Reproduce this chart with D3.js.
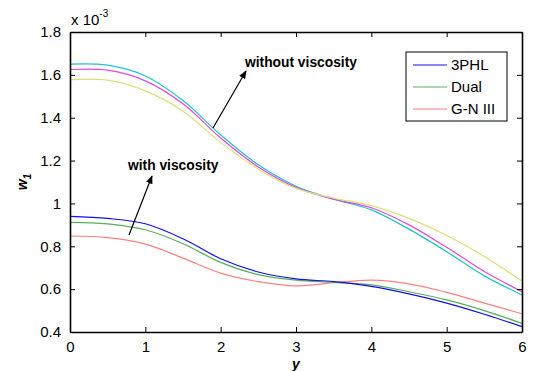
<!DOCTYPE html>
<html>
<head>
<meta charset="utf-8">
<script src="https://cdn.jsdelivr.net/npm/d3@7"></script>
<style>
  body { margin: 0; background: #fff; }
  text { font-family: "Liberation Sans", Arial, sans-serif; }
</style>
</head>
<body>
<svg id="chart"></svg>
<script>
// x positions shared by every curve
var yPos = [0, 0.5, 1, 1.5, 2, 2.5, 3, 3.5, 4, 4.5, 5, 5.5, 6];

// with viscosity (x 10^-3)
var phlWith  = [0.940, 0.930, 0.905, 0.835, 0.742, 0.680, 0.648, 0.635, 0.613, 0.578, 0.535, 0.483, 0.425];
var dualWith = [0.912, 0.905, 0.877, 0.812, 0.725, 0.668, 0.642, 0.632, 0.620, 0.588, 0.550, 0.500, 0.440];
var gnWith   = [0.848, 0.840, 0.810, 0.745, 0.675, 0.635, 0.615, 0.630, 0.642, 0.625, 0.585, 0.535, 0.485];

// without viscosity (x 10^-3)
var phlWithout  = [1.650, 1.645, 1.595, 1.480, 1.320, 1.180, 1.080, 1.020, 0.970, 0.880, 0.775, 0.662, 0.573];
var dualWithout = [1.625, 1.622, 1.572, 1.465, 1.305, 1.170, 1.075, 1.020, 0.980, 0.900, 0.795, 0.682, 0.588];
var gnWithout   = [1.578, 1.575, 1.525, 1.430, 1.285, 1.160, 1.070, 1.025, 0.990, 0.930, 0.850, 0.752, 0.638];

var xTicks = [0, 1, 2, 3, 4, 5, 6];
var yTicks = [0.4, 0.6, 0.8, 1, 1.2, 1.4, 1.6, 1.8];
var legendNames = ["3PHL", "Dual", "G-N III"];

var width = 537, height = 371;
var margin = {left: 70, right: 15, top: 32, bottom: 39};

var svg = d3.select("#chart")
            .attr("width", width)
            .attr("height", height);

var x = d3.scaleLinear().domain([0, 6]).range([margin.left, width - margin.right]);
var y = d3.scaleLinear().domain([0.4, 1.8]).range([height - margin.bottom, margin.top]);

// curves
var series = [
    {v: phlWithout,  color: "#1cc4cc"},
    {v: dualWithout, color: "#e048e0"},
    {v: gnWithout,   color: "#dede7a"},
    {v: gnWith,      color: "#ff8080"},
    {v: dualWith,    color: "#5aae5a"},
    {v: phlWith,     color: "#1010f0"}
];

var line = d3.line()
             .x(function(d) { return x(d[0]); })
             .y(function(d) { return y(d[1]); })
             .curve(d3.curveCatmullRom.alpha(0.5));

svg.selectAll(".curve")
   .data(series)
   .enter()
   .append("path")
     .classed("curve", true)
     .attr("fill", "none")
     .attr("stroke", function(d) { return d.color; })
     .attr("stroke-width", 1.2)
     .attr("d", function(d) { return line(d.v.map(function(v, i) { return [yPos[i], v]; })); });

// axes, ticks pointing inward like matlab
var fmt = function(d) { return d3.format("~g")(d); };
var axBottom = svg.append("g")
    .attr("transform", "translate(0," + y(0.4) + ")")
    .call(d3.axisBottom(x).tickValues(xTicks).tickSizeInner(-5).tickSizeOuter(0).tickPadding(9).tickFormat(fmt));
var axLeft = svg.append("g")
    .attr("transform", "translate(" + x(0) + ",0)")
    .call(d3.axisLeft(y).tickValues(yTicks).tickSizeInner(-5).tickSizeOuter(0).tickPadding(9).tickFormat(fmt));
var axTop = svg.append("g")
    .attr("transform", "translate(0," + y(1.8) + ")")
    .call(d3.axisTop(x).tickValues(xTicks).tickSizeInner(-5).tickSizeOuter(0).tickFormat(""));
var axRight = svg.append("g")
    .attr("transform", "translate(" + x(6) + ",0)")
    .call(d3.axisRight(y).tickValues(yTicks).tickSizeInner(-5).tickSizeOuter(0).tickFormat(""));

[axBottom, axLeft, axTop, axRight].forEach(function(g) {
    g.select(".domain").attr("stroke", "#000").attr("stroke-width", 1.6);
    g.selectAll(".tick line").attr("stroke", "#000");
    g.selectAll(".tick text").attr("font-size", "15px").attr("fill", "#000")
     .style("font-family", "'Liberation Sans', Arial, sans-serif");
});

// exponent label
var expo = svg.append("text")
    .attr("x", x(0) + 1)
    .attr("y", 25)
    .attr("font-size", "15px");
expo.append("tspan").text("x 10");
expo.append("tspan").attr("dy", -8).attr("font-size", "10px").text("-3");

// axis titles
svg.append("text")
    .attr("x", x(3))
    .attr("y", 369)
    .attr("text-anchor", "middle")
    .attr("font-size", "14px")
    .attr("font-weight", "bold")
    .attr("font-style", "italic")
    .text("y");

var wl = svg.append("text")
    .attr("transform", "translate(27," + y(1.1) + ") rotate(-90)")
    .attr("text-anchor", "middle")
    .attr("font-size", "14px")
    .attr("font-weight", "bold")
    .attr("font-style", "italic");
wl.append("tspan").text("w");
wl.append("tspan").attr("dy", 4).attr("font-size", "10px").text("1");

// annotations with arrows
svg.append("defs").append("marker")
    .attr("id", "head")
    .attr("viewBox", "0 0 10 10")
    .attr("refX", 9).attr("refY", 5)
    .attr("markerWidth", 7).attr("markerHeight", 7)
    .attr("orient", "auto")
  .append("path")
    .attr("d", "M0,1 L10,5 L0,9 z")
    .attr("fill", "#000");

var notes = [
    {text: "without viscosity", tx: 245, ty: 67, from: [213, 128], to: [246, 71]},
    {text: "with viscosity", tx: 128, ty: 170, from: [129, 235], to: [152, 176]}
];
notes.forEach(function(n) {
    svg.append("text")
        .attr("x", n.tx).attr("y", n.ty)
        .attr("font-size", "13.8px")
        .attr("font-weight", "bold")
        .text(n.text);
    svg.append("line")
        .attr("x1", n.from[0]).attr("y1", n.from[1])
        .attr("x2", n.to[0]).attr("y2", n.to[1])
        .attr("stroke", "#000")
        .attr("stroke-width", 1.2)
        .attr("marker-end", "url(#head)");
});

// legend
var legend = svg.append("g").attr("transform", "translate(406,52)");
legend.append("rect")
    .attr("width", 101).attr("height", 69)
    .attr("fill", "#fff")
    .attr("stroke", "#000")
    .attr("stroke-width", 1);
var legendColors = ["#1010f0", "#5aae5a", "#ff8080"];
legendNames.forEach(function(name, i) {
    var cy = 13 + i * 22;
    legend.append("line")
        .attr("x1", 7).attr("x2", 41)
        .attr("y1", cy).attr("y2", cy)
        .attr("stroke", legendColors[i])
        .attr("stroke-width", 1.2);
    legend.append("text")
        .attr("x", 45).attr("y", cy + 5)
        .attr("font-size", "15px")
        .text(name);
});
</script>
</body>
</html>
